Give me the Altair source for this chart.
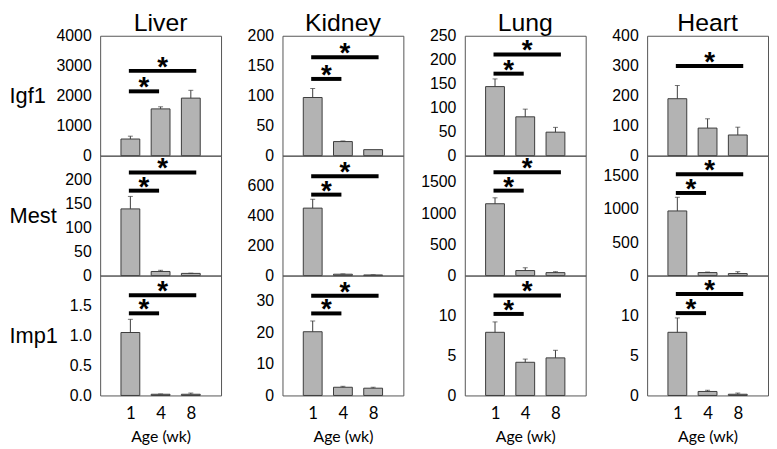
import altair as alt
import pandas as pd

tissues = ["Liver", "Kidney", "Lung", "Heart"]
genes = ["Igf1", "Mest", "Imp1"]
ages = ["1", "4", "8"]

# bar heights (mean) and error (SEM) for each tissue, per gene
igf1_mean = [[555, 1560, 1920], [97, 23.5, 10], [144, 81, 49], [190, 92, 69]]
igf1_sem = [[95, 70, 260], [15, 1, 0], [16, 16, 10], [44, 31, 26]]
mest_mean = [[139, 8.5, 4.5], [450, 9, 4], [1150, 80, 47], [970, 45, 30]]
mest_sem = [[26, 2.5, 0.5], [59, 2, 1], [95, 45, 15], [205, 8, 28]]
imp1_mean = [[1.05, 0.02, 0.02], [20.2, 2.6, 2.3], [7.9, 4.15, 4.7], [7.9, 0.5, 0.15]]
imp1_sem = [[0.22, 0.005, 0.02], [3.4, 0.3, 0.3], [1.3, 0.4, 0.95], [1.8, 0.15, 0.15]]

# y-axis maxima and tick values (rows = genes, columns = tissues)
y_max = [[4000, 200, 250, 400], [250, 800, 1920, 1800], [2.0, 38, 15, 15]]
y_ticks = [
    [[0, 1000, 2000, 3000, 4000], [0, 50, 100, 150, 200], [0, 50, 100, 150, 200, 250], [0, 100, 200, 300, 400]],
    [[0, 50, 100, 150, 200], [0, 200, 400, 600], [0, 500, 1000, 1500], [0, 500, 1000, 1500]],
    [[0.0, 0.5, 1.0, 1.5], [0, 10, 20, 30], [0, 5, 10], [0, 5, 10]],
]

# significance brackets: height of "1 vs 4" and "1 vs 8" bars (None = not shown)
sig_1v4 = [[2146, 128, 171, None], [177, 540, 1360, 1240], [1.37, 26, 10.2, 10.3]]
sig_1v8 = [[2829, 164, 211, 299], [215, 663, 1655, 1520], [1.67, 31.6, 12.5, 12.7]]
bracket_1v4 = [0.95, 1.95]
bracket_1v8 = [0.95, 3.18]

means_all = [igf1_mean, mest_mean, imp1_mean]
sems_all = [igf1_sem, mest_sem, imp1_sem]

FONT = "Liberation Sans"
W, H = 122, 121
BAR_COLOR = "#b3b3b3"
EDGE = "#3c3c3c"


def panel(r, c):
    means = means_all[r][c]
    sems = sems_all[r][c]
    df = pd.DataFrame({
        "pos": [1, 2, 3],
        "age": ages,
        "mean": means,
        "top": [m + s for m, s in zip(means, sems)],
    })
    ticks = y_ticks[r][c]
    fmt = ".1f" if any(float(t) != int(t) for t in ticks) else "d"
    yaxis_kw = dict(values=ticks, format=fmt, ticks=False, domain=False, grid=False,
                    labelFont=FONT, labelFontSize=16, labelColor="black", labelPadding=9)
    if c == 0:
        yaxis_kw.update(title=genes[r], titleAngle=0, titleAlign="left", titleBaseline="middle",
                        titleX=-92, titleY=H / 2, titleFont=FONT, titleFontSize=22,
                        titleFontWeight="normal", titleColor="black")
    else:
        yaxis_kw.update(title=None)
    yscale = alt.Scale(domain=[0, y_max[r][c]], nice=False, zero=True, padding=0)

    if r == 2:
        label_list = "[" + ",".join(["''"] + ["'%s'" % a for a in ages]) + "]"
        xaxis = alt.Axis(values=[1, 2, 3], labelExpr=label_list + "[datum.value]", labelAngle=0,
                         ticks=False, domain=False, grid=False, labelFont="Lato", labelFontSize=17,
                         labelColor="black", labelPadding=10, title="Age (wk)", titleFont="Lato",
                         titleFontSize=16, titleFontWeight="normal", titleColor="black", titlePadding=7)
    else:
        xaxis = None
    xscale = alt.Scale(domain=[0, 4], nice=False, zero=False, padding=0)

    def X(f):
        return alt.X(f, scale=xscale, axis=xaxis)

    def Y(f):
        return alt.Y(f, scale=yscale, axis=alt.Axis(**yaxis_kw))

    base = alt.Chart(df)
    bars = base.mark_bar(size=19, fill=BAR_COLOR, stroke=EDGE, strokeWidth=1).encode(
        x=X("pos:Q"), y=Y("mean:Q"))
    err = base.transform_filter("datum.top > datum.mean").mark_rule(color=EDGE, strokeWidth=1).encode(
        x=X("pos:Q"), y=Y("mean:Q"), y2="top:Q")
    cap = base.transform_filter("datum.top > datum.mean").mark_tick(
        orient="horizontal", size=5, thickness=1, color=EDGE).encode(x=X("pos:Q"), y=Y("top:Q"))

    rows = []
    for rng, h in ((bracket_1v4, sig_1v4[r][c]), (bracket_1v8, sig_1v8[r][c])):
        if h is not None:
            rows.append({"x1": rng[0], "x2": rng[1], "xc": (rng[0] + rng[1]) / 2, "y": h})
    sig = pd.DataFrame(rows)
    rules = alt.Chart(sig).mark_rule(color="black", strokeWidth=4).encode(
        x=X("x1:Q"), x2="x2:Q", y=Y("y:Q"))
    stars = alt.Chart(sig).mark_text(text="*", fontSize=28, fontWeight="bold", font=FONT,
                                     baseline="alphabetic", dy=5, color="black").encode(
        x=X("xc:Q"), y=Y("y:Q"))

    layer = alt.layer(bars, err, cap, rules, stars).properties(width=W, height=H)
    if r == 0:
        layer = layer.properties(title=alt.TitleParams(
            tissues[c], font=FONT, fontSize=25, fontWeight="normal", color="black",
            anchor="middle", frame="group", offset=-8))
    return layer


panels = [panel(r, c) for r in range(3) for c in range(4)]

chart = alt.concat(*panels, columns=4, spacing={"row": 0, "column": 62}, bounds="flush").properties(
    padding={"left": 0, "right": 0, "top": 0, "bottom": 0},
    background="white",
).configure_view(stroke="#555555", strokeWidth=1)

chart.save("out.html", embed_options={"renderer": "svg", "actions": False})
